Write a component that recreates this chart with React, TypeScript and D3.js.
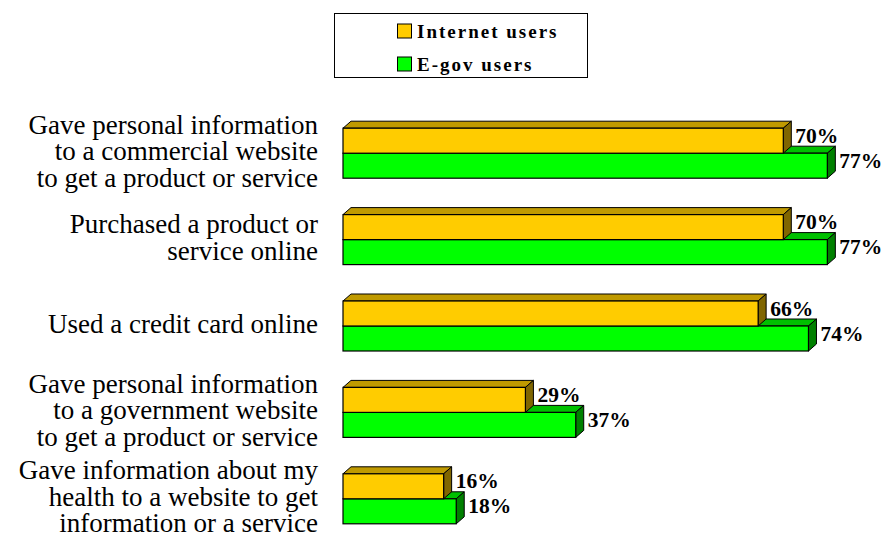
import React, { useEffect, useRef } from 'react';
import * as d3 from 'd3';

const categories = [
  'Gave personal information\nto a commercial website\nto get a product or service',
  'Purchased a product or\nservice online',
  'Used a credit card online',
  'Gave personal information\nto a government website\nto get a product or service',
  'Gave information about my\nhealth to a website to get\ninformation or a service',
];
const seriesNames = ['Internet users', 'E-gov users'];
const internetUsers = [70, 70, 66, 29, 16];
const egovUsers = [77, 77, 74, 37, 18];

const colors = [
  { face: '#FFCC00', top: '#C09A00', side: '#806600' },
  { face: '#00FF00', top: '#00C000', side: '#008000' },
];

const FONT = '"Liberation Serif", "Times New Roman", serif';

const App = () => {
  const svgRef = useRef(null);

  useEffect(() => {
    const width = 886;
    const height = 544;
    const svg = d3.select(svgRef.current)
      .attr('width', width)
      .attr('height', height);
    svg.selectAll('*').remove();

    const x = d3.scaleLinear().domain([0, 100]).range([343, 972]);
    const y = d3.scaleBand().domain(categories).range([110, 542]);
    const barH = 25;
    const dx = 8;
    const dy = 7;
    const series = [internetUsers, egovUsers];

    // category labels
    categories.forEach(c => {
      const lines = c.split('\n');
      const cy = y(c) + y.bandwidth() / 2;
      const lh = 26.5;
      const t = svg.append('text')
        .attr('text-anchor', 'end')
        .style('font-family', FONT)
        .style('font-size', '27px')
        .attr('fill', '#000');
      lines.forEach((l, i) => {
        t.append('tspan')
          .attr('x', 318)
          .attr('y', cy + 7 + (i - (lines.length - 1) / 2) * lh)
          .text(l);
      });
    });

    // bars: e-gov (lower) drawn first so the internet bar covers its top face
    categories.forEach((c, ci) => {
      const cy = y(c) + y.bandwidth() / 2;
      [1, 0].forEach(si => {
        const vals = series[si];
        const col = colors[si];
        const x0 = x(0);
        const x1 = x(vals[ci]);
        const y0 = cy - barH + si * barH;
        const y1 = y0 + barH;
        const g = svg.append('g');
        g.append('path')
          .attr('d', `M${x0},${y0}L${x0 + dx},${y0 - dy}L${x1 + dx},${y0 - dy}L${x1},${y0}Z`)
          .attr('fill', col.top).attr('stroke', '#000').attr('stroke-width', 1).attr('stroke-linejoin', 'round');
        g.append('path')
          .attr('d', `M${x1},${y0}L${x1 + dx},${y0 - dy}L${x1 + dx},${y1 - dy}L${x1},${y1}Z`)
          .attr('fill', col.side).attr('stroke', '#000').attr('stroke-width', 1).attr('stroke-linejoin', 'round');
        g.append('rect')
          .attr('x', x0).attr('y', y0)
          .attr('width', x1 - x0).attr('height', barH)
          .attr('fill', col.face).attr('stroke', '#000').attr('stroke-width', 1.2);
        g.append('text')
          .attr('x', x1 + dx + 4)
          .attr('y', (y0 + y1) / 2 + 2)
          .style('font-family', FONT)
          .style('font-weight', 'bold')
          .style('font-size', '21.5px')
          .attr('fill', '#000')
          .text(vals[ci] + '%');
      });
    });

    // legend
    const legend = svg.append('g');
    legend.append('rect')
      .attr('x', 334.5).attr('y', 13.5).attr('width', 253).attr('height', 64)
      .attr('fill', '#fff').attr('stroke', '#000').attr('stroke-width', 1);
    seriesNames.forEach((n, i) => {
      const ly = 31 + i * 33;
      legend.append('rect')
        .attr('x', 397.5).attr('y', ly - 7).attr('width', 14).attr('height', 14)
        .attr('fill', colors[i].face).attr('stroke', '#000').attr('stroke-width', 1);
      legend.append('text')
        .attr('x', 417).attr('y', ly + 7)
        .style('font-family', FONT)
        .style('font-weight', 'bold')
        .style('font-size', '19px')
        .style('letter-spacing', '2px')
        .text(n);
    });
  }, []);

  return <svg ref={svgRef} style={{ position: 'absolute', left: 0, top: 0 }}></svg>;
};

export default App;
